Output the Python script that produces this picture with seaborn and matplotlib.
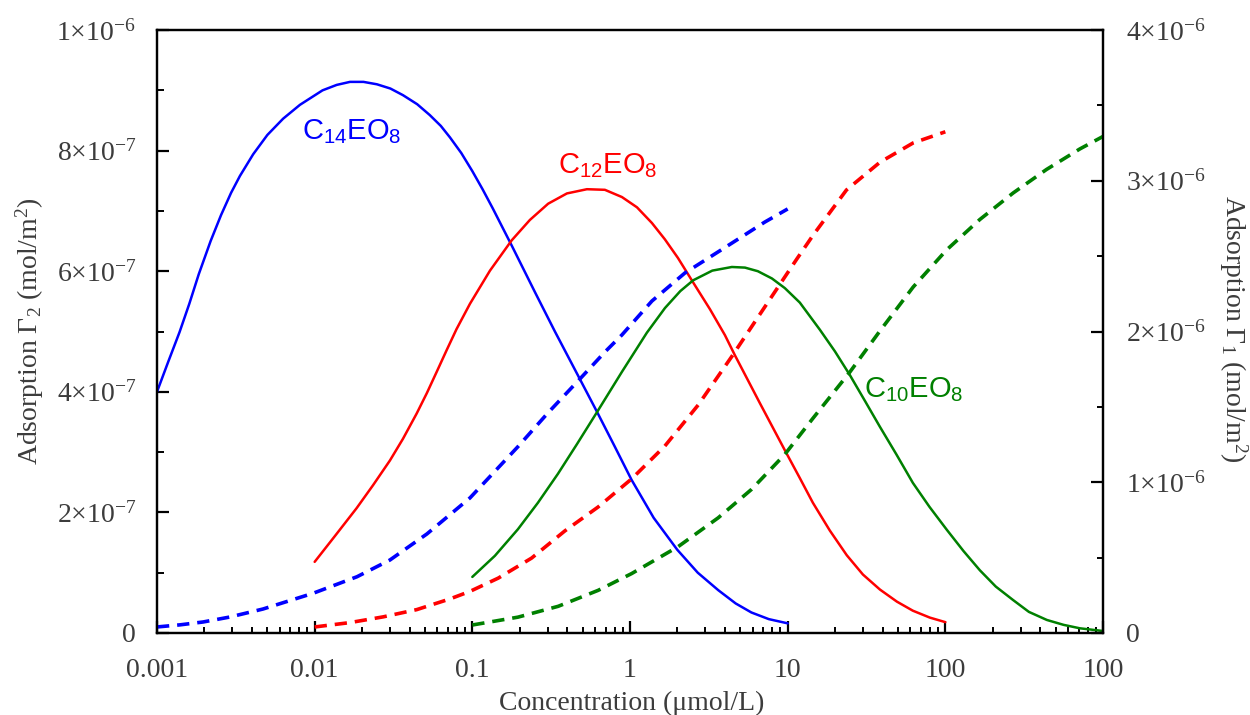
import numpy as np
import pandas as pd
import seaborn as sns
import matplotlib
matplotlib.use("Agg")
import matplotlib.pyplot as plt
from matplotlib.ticker import LogLocator, FixedLocator, MultipleLocator, NullFormatter

# ---------------- data ----------------
# Gamma_2 (left axis, mol/m^2), solid lines
c14_g2_x = [0.001, 0.001175, 0.00139, 0.001603, 0.00184, 0.002188, 0.002547, 0.00295, 0.003357, 0.004074,
            0.005012, 0.00631, 0.00807, 0.01122, 0.0138, 0.01675, 0.0204, 0.02483, 0.0302, 0.0363,
            0.04467, 0.0537, 0.0631, 0.0721, 0.0851, 0.1, 0.1161, 0.1349, 0.1782, 0.251,
            0.334, 0.468, 0.617, 0.794, 1.023, 1.413, 1.995, 2.69, 3.63, 4.68,
            5.89, 7.59, 10]
c14_g2_y = [4.0e-7, 4.49e-7, 4.99e-7, 5.46e-7, 5.95e-7, 6.5e-7, 6.93e-7, 7.3e-7, 7.58e-7, 7.94e-7,
            8.26e-7, 8.53e-7, 8.76e-7, 9.0e-7, 9.09e-7, 9.14e-7, 9.14e-7, 9.10e-7, 9.03e-7, 8.92e-7,
            8.77e-7, 8.59e-7, 8.41e-7, 8.22e-7, 7.96e-7, 7.66e-7, 7.36e-7, 7.04e-7, 6.42e-7, 5.64e-7,
            5.0e-7, 4.27e-7, 3.67e-7, 3.11e-7, 2.54e-7, 1.91e-7, 1.38e-7, 1.0e-7, 0.71e-7, 0.49e-7,
            0.34e-7, 0.23e-7, 0.16e-7]

c12_g2_x = [0.01, 0.01346, 0.01845, 0.02344, 0.03, 0.0363, 0.04436, 0.0515, 0.0594, 0.0687,
            0.0794, 0.0966, 0.1294, 0.1774, 0.2317, 0.3027, 0.398, 0.533, 0.693, 0.889,
            1.107, 1.377, 1.663, 2.014, 2.576, 3.214, 4.0, 4.62, 6.67, 9.6,
            11.94, 14.45, 18.5, 23.7, 30.0, 38.5, 49.3, 62.2, 79.8, 100]
c12_g2_y = [1.18e-7, 1.61e-7, 2.07e-7, 2.45e-7, 2.86e-7, 3.22e-7, 3.64e-7, 3.98e-7, 4.33e-7, 4.69e-7,
            5.04e-7, 5.46e-7, 6.01e-7, 6.51e-7, 6.85e-7, 7.12e-7, 7.29e-7, 7.36e-7, 7.35e-7, 7.23e-7,
            7.06e-7, 6.80e-7, 6.53e-7, 6.22e-7, 5.77e-7, 5.37e-7, 4.94e-7, 4.61e-7, 3.81e-7, 3.03e-7,
            2.57e-7, 2.16e-7, 1.70e-7, 1.29e-7, 0.97e-7, 0.72e-7, 0.52e-7, 0.37e-7, 0.255e-7, 0.18e-7]

c10_g2_x = [0.1, 0.139, 0.1945, 0.2606, 0.3491, 0.4603, 0.6166, 0.8882, 1.279, 1.667,
            2.084, 2.518, 3.327, 4.426, 5.358, 6.471, 7.943, 9.594, 11.94, 16.0,
            19.95, 24.77, 30.9, 38.46, 48.98, 62.23, 79.43, 102.3, 130.3, 165.6,
            208.9, 267.9, 338.8, 440.6, 562.3, 712.8, 1000]
c10_g2_y = [0.93e-7, 1.28e-7, 1.72e-7, 2.16e-7, 2.64e-7, 3.13e-7, 3.66e-7, 4.33e-7, 4.98e-7, 5.39e-7,
            5.67e-7, 5.85e-7, 6.01e-7, 6.07e-7, 6.06e-7, 6.0e-7, 5.88e-7, 5.72e-7, 5.48e-7, 5.03e-7,
            4.67e-7, 4.28e-7, 3.85e-7, 3.42e-7, 2.96e-7, 2.49e-7, 2.09e-7, 1.71e-7, 1.36e-7, 1.04e-7,
            0.77e-7, 0.55e-7, 0.35e-7, 0.216e-7, 0.135e-7, 0.078e-7, 0.033e-7]

# Gamma_1 (right axis, mol/m^2), dashed lines
c14_g1_x = [0.001, 0.0014, 0.00196, 0.0029, 0.0047, 0.00975, 0.01854, 0.030, 0.0515, 0.0966,
            0.1946, 0.301, 0.4808, 0.693, 0.888, 1.377, 2.228, 4.0, 7.16, 10]
c14_g1_y = [0.040e-6, 0.054e-6, 0.073e-6, 0.106e-6, 0.159e-6, 0.263e-6, 0.373e-6, 0.484e-6, 0.657e-6, 0.896e-6,
            1.236e-6, 1.459e-6, 1.685e-6, 1.864e-6, 1.977e-6, 2.202e-6, 2.388e-6, 2.557e-6, 2.726e-6, 2.813e-6]

c12_g1_x = [0.01, 0.01675, 0.0272, 0.0444, 0.0721, 0.0966, 0.146, 0.2377, 0.386, 0.628,
            1.023, 1.663, 2.704, 4.40, 7.16, 11.43, 14.52, 23.6, 38.5, 62.5, 100]
c12_g1_y = [0.040e-6, 0.069e-6, 0.107e-6, 0.155e-6, 0.226e-6, 0.276e-6, 0.364e-6, 0.497e-6, 0.677e-6, 0.836e-6,
            1.022e-6, 1.240e-6, 1.512e-6, 1.831e-6, 2.163e-6, 2.481e-6, 2.640e-6, 2.939e-6, 3.123e-6, 3.251e-6, 3.325e-6]

c10_g1_x = [0.1, 0.1946, 0.3504, 0.6285, 1.0235, 2.021, 3.625, 5.903, 9.598, 14.51,
            24.8, 38.43, 62.5, 101.8, 165.5, 269.2, 438.3, 712.8, 1000]
c10_g1_y = [0.053e-6, 0.105e-6, 0.177e-6, 0.283e-6, 0.394e-6, 0.573e-6, 0.764e-6, 0.953e-6, 1.185e-6, 1.426e-6,
            1.731e-6, 2.003e-6, 2.295e-6, 2.541e-6, 2.743e-6, 2.919e-6, 3.075e-6, 3.211e-6, 3.294e-6]

x_tick_values = [0.001, 0.01, 0.1, 1, 10, 100, 1000]
x_tick_labels = ["0.001", "0.01", "0.1", "1", "10", "100", "100"]
left_tick_values = [0, 2e-7, 4e-7, 6e-7, 8e-7, 1e-6]
left_tick_labels = ["0", "2×10$^{-7}$", "4×10$^{-7}$", "6×10$^{-7}$", "8×10$^{-7}$", "1×10$^{-6}$"]
right_tick_values = [0, 1e-6, 2e-6, 3e-6, 4e-6]
right_tick_labels = ["0", "1×10$^{-6}$", "2×10$^{-6}$", "3×10$^{-6}$", "4×10$^{-6}$"]

series_names = [r"C$_{\mathsf{14}}$EO$_{\mathsf{8}}$", r"C$_{\mathsf{12}}$EO$_{\mathsf{8}}$",
                r"C$_{\mathsf{10}}$EO$_{\mathsf{8}}$"]
series_label_pos = [(0.01726, 8.31e-7), (0.72, 7.75e-7), (63, 4.03e-7)]

# ---------------- style ----------------
sns.set_theme(style="white")
plt.rcParams["font.family"] = ["Liberation Serif", "DejaVu Serif"]
plt.rcParams["mathtext.fontset"] = "custom"
plt.rcParams["mathtext.rm"] = "Liberation Serif"
plt.rcParams["mathtext.it"] = "Liberation Serif:italic"
plt.rcParams["mathtext.sf"] = "Liberation Sans"
plt.rcParams["xtick.bottom"] = True
plt.rcParams["ytick.left"] = True
plt.rcParams["xtick.direction"] = "in"
plt.rcParams["ytick.direction"] = "in"
plt.rcParams["xtick.color"] = "black"
plt.rcParams["ytick.color"] = "black"

text_col = "#3c3c3c"
blue, red, green = "#0000FF", "#FF0000", "#008000"

fig = plt.figure(figsize=(12.5, 7.15), dpi=100)
ax = fig.add_axes([0.1256, 0.1147, 0.7568, 0.8433])
ax2 = ax.twinx()

solid_lw = 1.8
dash_lw = 2.6
dash_pat = (3.4, 2.2)

for xs, ys, col in [(c14_g2_x, c14_g2_y, blue), (c12_g2_x, c12_g2_y, red), (c10_g2_x, c10_g2_y, green)]:
    sns.lineplot(x=xs, y=ys, ax=ax, color=col, lw=solid_lw, sort=False, estimator=None)

for xs, ys, col in [(c14_g1_x, c14_g1_y, blue), (c12_g1_x, c12_g1_y, red), (c10_g1_x, c10_g1_y, green)]:
    sns.lineplot(x=xs, y=ys, ax=ax2, color=col, lw=dash_lw, sort=False, estimator=None,
                 dashes=False, linestyle=(0, dash_pat))

ax.set_xscale("log")
ax.set_xlim(0.001, 1000)
ax.set_ylim(0, 1e-6)
ax2.set_ylim(0, 4e-6)

ax.xaxis.set_major_locator(FixedLocator(x_tick_values))
ax.set_xticklabels(x_tick_labels)
ax.xaxis.set_minor_locator(LogLocator(base=10, subs=np.arange(2, 10), numticks=30))
ax.xaxis.set_minor_formatter(NullFormatter())

ax.yaxis.set_major_locator(FixedLocator(left_tick_values))
ax.set_yticklabels(left_tick_labels)
ax.yaxis.set_minor_locator(MultipleLocator(1e-7))

ax2.yaxis.set_major_locator(FixedLocator(right_tick_values))
ax2.set_yticklabels(right_tick_labels)
ax2.yaxis.set_minor_locator(MultipleLocator(5e-7))

for a in (ax, ax2):
    for s in a.spines.values():
        s.set_linewidth(1.6)
        s.set_color("black")
        s.set_visible(True)

ax.tick_params(axis="both", which="major", direction="in", length=8.5, width=1.6,
               labelsize=20, labelcolor=text_col, color="black",
               bottom=True, left=True, top=False, right=False)
ax.tick_params(axis="both", which="minor", direction="in", length=4.2, width=1.4,
               color="black", bottom=True, left=True, top=False, right=False)
ax.tick_params(axis="y", which="minor", length=5)
ax.tick_params(axis="y", which="major", pad=15)
ax.tick_params(axis="x", which="major", pad=18)
ax2.tick_params(axis="y", which="major", direction="in", length=8.5, width=1.6,
                labelsize=20, labelcolor=text_col, color="black", left=False, right=True,
                labelleft=False, labelright=True, pad=16.5)
ax2.tick_params(axis="y", which="minor", direction="in", length=4.2, width=1.4,
                color="black", left=False, right=True)

ax.set_xlabel("Concentration (μmol/L)", fontsize=20, color=text_col, va="center")
ax.xaxis.set_label_coords(0.502, -0.116)
ax.set_ylabel("Adsorption Γ$_2$ (mol/m$^2$)", fontsize=20, color=text_col, va="center")
ax.yaxis.set_label_coords(-0.134, 0.5)
ax2.set_ylabel("Adsorption Γ$_1$ (mol/m$^2$)", fontsize=20, color=text_col, rotation=-90, va="center")
ax2.yaxis.set_label_coords(1.1374, 0.505)

label_font = {"family": "Liberation Sans", "size": 21}
for name, (lx, ly), col in zip(series_names, series_label_pos, [blue, red, green]):
    ax.text(lx, ly, name, color=col, ha="center", va="center", fontdict=label_font)

fig.savefig("out.png", dpi=100)
